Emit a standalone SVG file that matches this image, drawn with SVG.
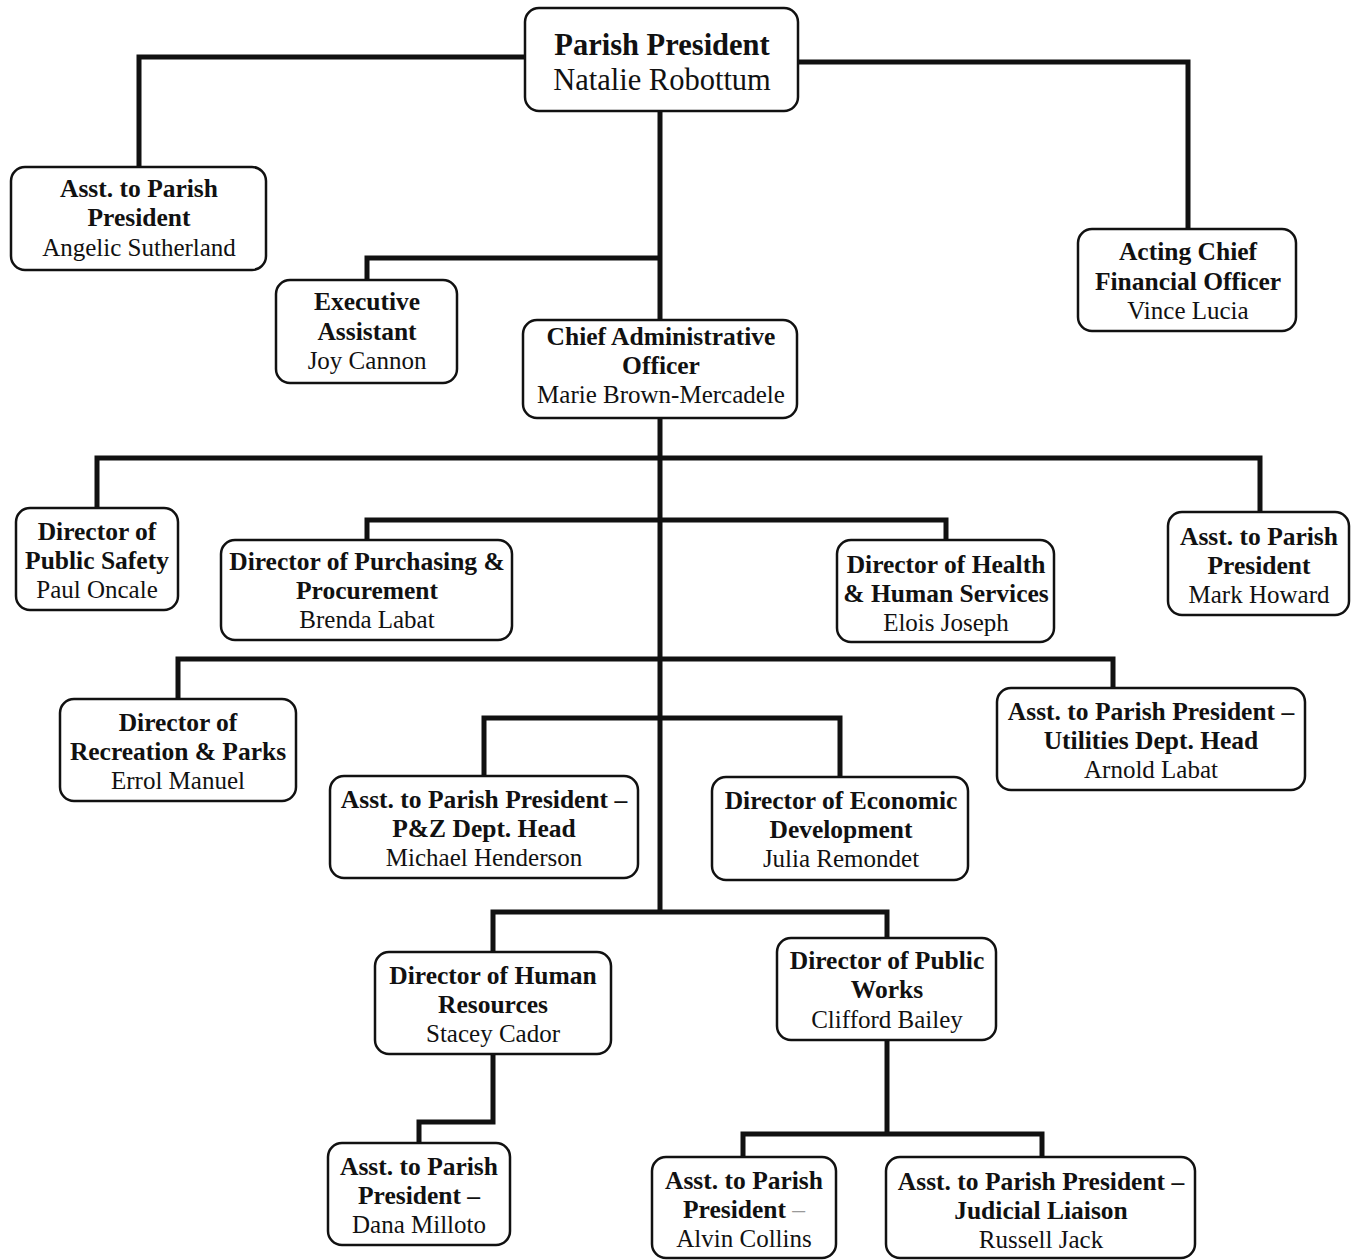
<svg xmlns="http://www.w3.org/2000/svg" width="1361" height="1260" viewBox="0 0 1361 1260">
<style>
.box{fill:#ffffff;stroke:#111;stroke-width:2.5}
.t{font-family:"Liberation Serif","Times New Roman",serif;font-size:25px;fill:#111;text-anchor:middle}
.b{font-weight:bold;font-size:25.5px}
.big{font-size:30.5px}
.conn{fill:none;stroke:#111;stroke-width:5;stroke-linejoin:miter}
</style>
<rect width="1361" height="1260" fill="#ffffff"/>
<g id="connectors">
<path class="conn" d="M525,57 H139 V167"/>
<path class="conn" d="M798,62 H1188 V229"/>
<path class="conn" d="M660,111 V912"/>
<path class="conn" d="M660,258 H367 V280"/>
<path class="conn" d="M97,508 V458 H1260 V512"/>
<path class="conn" d="M367,540 V520 H946 V540"/>
<path class="conn" d="M178,699 V659 H1113 V688"/>
<path class="conn" d="M484,776 V718 H840 V777"/>
<path class="conn" d="M493,952 V912 H887 V938"/>
<path class="conn" d="M493,1054 V1122 H419 V1143"/>
<path class="conn" d="M887,1040 V1134"/>
<path class="conn" d="M743,1157 V1134 H1042 V1157"/>
</g>
<g id="n-president">
<rect class="box" x="525" y="8" width="273" height="103" rx="14"/>
<text class="t b big" x="662" y="55">Parish President</text>
<text class="t big" x="662" y="90">Natalie Robottum</text>
</g>
<g id="n-asst-sutherland">
<rect class="box" x="11" y="167" width="255" height="103" rx="14"/>
<text class="t b" x="139" y="197">Asst. to Parish</text>
<text class="t b" x="139" y="226">President</text>
<text class="t" x="139" y="256">Angelic Sutherland</text>
</g>
<g id="n-cfo">
<rect class="box" x="1078" y="229" width="218" height="102" rx="14"/>
<text class="t b" x="1188" y="260">Acting Chief</text>
<text class="t b" x="1188" y="290">Financial Officer</text>
<text class="t" x="1188" y="319">Vince Lucia</text>
</g>
<g id="n-exec">
<rect class="box" x="276" y="280" width="181" height="103" rx="14"/>
<text class="t b" x="367" y="310">Executive</text>
<text class="t b" x="367" y="340">Assistant</text>
<text class="t" x="367" y="369">Joy Cannon</text>
</g>
<g id="n-cao">
<rect class="box" x="523" y="320" width="274" height="98" rx="14"/>
<text class="t b" x="661" y="345">Chief Administrative</text>
<text class="t b" x="661" y="374">Officer</text>
<text class="t" x="661" y="403">Marie Brown-Mercadele</text>
</g>
<g id="n-safety">
<rect class="box" x="16" y="508" width="162" height="102" rx="14"/>
<text class="t b" x="97" y="540">Director of</text>
<text class="t b" x="97" y="569">Public Safety</text>
<text class="t" x="97" y="598">Paul Oncale</text>
</g>
<g id="n-purchasing">
<rect class="box" x="221" y="540" width="291" height="100" rx="14"/>
<text class="t b" x="367" y="570">Director of Purchasing &amp;</text>
<text class="t b" x="367" y="599">Procurement</text>
<text class="t" x="367" y="628">Brenda Labat</text>
</g>
<g id="n-health">
<rect class="box" x="837" y="540" width="217" height="102" rx="14"/>
<text class="t b" x="946" y="573">Director of Health</text>
<text class="t b" x="946" y="602">&amp; Human Services</text>
<text class="t" x="946" y="631">Elois Joseph</text>
</g>
<g id="n-howard">
<rect class="box" x="1168" y="512" width="181" height="103" rx="14"/>
<text class="t b" x="1259" y="545">Asst. to Parish</text>
<text class="t b" x="1259" y="574">President</text>
<text class="t" x="1259" y="603">Mark Howard</text>
</g>
<g id="n-recreation">
<rect class="box" x="60" y="699" width="236" height="102" rx="14"/>
<text class="t b" x="178" y="731">Director of</text>
<text class="t b" x="178" y="760">Recreation &amp; Parks</text>
<text class="t" x="178" y="789">Errol Manuel</text>
</g>
<g id="n-utilities">
<rect class="box" x="997" y="688" width="308" height="102" rx="14"/>
<text class="t b" x="1151" y="720">Asst. to Parish President –</text>
<text class="t b" x="1151" y="749">Utilities Dept. Head</text>
<text class="t" x="1151" y="778">Arnold Labat</text>
</g>
<g id="n-pz">
<rect class="box" x="330" y="776" width="308" height="102" rx="14"/>
<text class="t b" x="484" y="808">Asst. to Parish President –</text>
<text class="t b" x="484" y="837">P&amp;Z Dept. Head</text>
<text class="t" x="484" y="866">Michael Henderson</text>
</g>
<g id="n-economic">
<rect class="box" x="712" y="777" width="256" height="103" rx="14"/>
<text class="t b" x="841" y="809">Director of Economic</text>
<text class="t b" x="841" y="838">Development</text>
<text class="t" x="841" y="867">Julia Remondet</text>
</g>
<g id="n-hr">
<rect class="box" x="375" y="952" width="236" height="102" rx="14"/>
<text class="t b" x="493" y="984">Director of Human</text>
<text class="t b" x="493" y="1013">Resources</text>
<text class="t" x="493" y="1042">Stacey Cador</text>
</g>
<g id="n-publicworks">
<rect class="box" x="777" y="938" width="219" height="102" rx="14"/>
<text class="t b" x="887" y="969">Director of Public</text>
<text class="t b" x="887" y="998">Works</text>
<text class="t" x="887" y="1028">Clifford Bailey</text>
</g>
<g id="n-milloto">
<rect class="box" x="328" y="1143" width="182" height="102" rx="14"/>
<text class="t b" x="419" y="1175">Asst. to Parish</text>
<text class="t b" x="419" y="1204">President –</text>
<text class="t" x="419" y="1233">Dana Milloto</text>
</g>
<g id="n-collins">
<rect class="box" x="652" y="1157" width="184" height="101" rx="14"/>
<text class="t b" x="744" y="1189">Asst. to Parish</text>
<text class="t b" x="744" y="1218">President <tspan fill="#999" font-weight="normal">–</tspan></text>
<text class="t" x="744" y="1247">Alvin Collins</text>
</g>
<g id="n-jack">
<rect class="box" x="886" y="1157" width="309" height="101" rx="14"/>
<text class="t b" x="1041" y="1190">Asst. to Parish President –</text>
<text class="t b" x="1041" y="1219">Judicial Liaison</text>
<text class="t" x="1041" y="1248">Russell Jack</text>
</g>
</svg>
